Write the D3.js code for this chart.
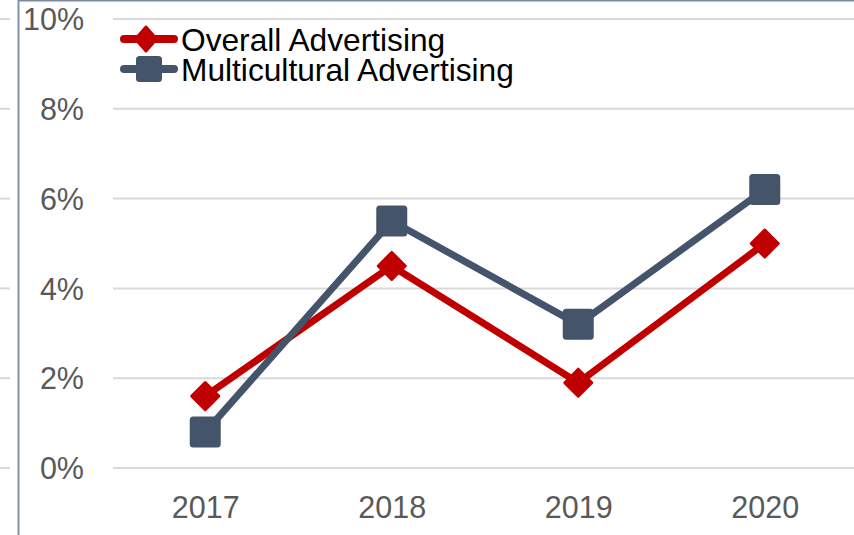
<!DOCTYPE html>
<html>
<head>
<meta charset="utf-8">
<script src="https://cdn.jsdelivr.net/npm/d3@7"></script>
<style>
  html, body { margin: 0; padding: 0; background: #fff; }
  svg { display: block; }
  text { font-family: "Liberation Sans", Arial, sans-serif; }
</style>
</head>
<body>
<svg id="chart" width="854" height="535"></svg>
<script>
// Annual growth in advertising spend (%)
const years = ["2017", "2018", "2019", "2020"];
const overallAdvertising = [1.6, 4.5, 1.9, 5.0];
const multiculturalAdvertising = [0.8, 5.5, 3.2, 6.2];
const yTicks = [0, 2, 4, 6, 8, 10];
const seriesNames = ["Overall Advertising", "Multicultural Advertising"];

const W = 854, H = 535;
const svg = d3.select("#chart");

const x = d3.scalePoint().domain(years).range([112, 858]).padding(0.5);
const y = d3.scaleLinear().domain([0, 10]).range([468, 19]);

// frame lines
svg.append("line").attr("x1", 19).attr("x2", W).attr("y1", 0.5).attr("y2", 0.5)
  .attr("stroke", "#7d8aa0").attr("stroke-width", 2);
svg.append("line").attr("x1", 18.5).attr("x2", 18.5).attr("y1", 0).attr("y2", H)
  .attr("stroke", "#8191aa").attr("stroke-width", 2);

// gridlines
const grid = svg.append("g");
yTicks.forEach(t => {
  grid.append("line").attr("x1", 113).attr("x2", W)
    .attr("y1", y(t)).attr("y2", y(t))
    .attr("stroke", "#d9d9d9").attr("stroke-width", 2);
  grid.append("line").attr("x1", 0).attr("x2", 10)
    .attr("y1", y(t)).attr("y2", y(t))
    .attr("stroke", "#d9d9d9").attr("stroke-width", 2);
});

// y axis labels
const yAxis = d3.axisLeft(y).tickValues(yTicks).tickFormat(d => d + "%").tickSize(0).tickPadding(0);
const yg = svg.append("g").attr("transform", "translate(84,0)").call(yAxis);
yg.select(".domain").remove();
yg.selectAll("text").attr("font-size", 30.5).attr("fill", "#595959")
  .attr("font-family", "'Liberation Sans', Arial, sans-serif").attr("dy", "0.35em");

// x axis labels
const xAxis = d3.axisBottom(x).tickSize(0).tickPadding(0);
const xg = svg.append("g").attr("transform", "translate(0,496)").call(xAxis);
xg.select(".domain").remove();
xg.selectAll("text").attr("font-size", 30.5).attr("fill", "#595959")
  .attr("font-family", "'Liberation Sans', Arial, sans-serif").attr("dy", "0.71em");

const red = "#c00000", slate = "#44546a";
const lineGen = d3.line().x((d, i) => x(years[i])).y(d => y(d));

function diamond(g, cx, cy, hx, hy, color) {
  g.append("path")
    .attr("d", `M${cx},${cy - hy}L${cx + hx},${cy}L${cx},${cy + hy}L${cx - hx},${cy}Z`)
    .attr("fill", color).attr("stroke", color).attr("stroke-width", 3)
    .attr("stroke-linejoin", "round");
}
function square(g, cx, cy, s, color) {
  g.append("rect").attr("x", cx - s / 2).attr("y", cy - s / 2)
    .attr("width", s).attr("height", s).attr("rx", 3.5)
    .attr("fill", color);
}

// Overall series
const gO = svg.append("g");
gO.append("path").datum(overallAdvertising).attr("d", lineGen)
  .attr("fill", "none").attr("stroke", red).attr("stroke-width", 7)
  .attr("stroke-linejoin", "round");
overallAdvertising.forEach((v, i) => diamond(gO, x(years[i]), y(v), 13.5, 13.5, red));

// Multicultural series
const gM = svg.append("g");
gM.append("path").datum(multiculturalAdvertising).attr("d", lineGen)
  .attr("fill", "none").attr("stroke", slate).attr("stroke-width", 7)
  .attr("stroke-linejoin", "round");
multiculturalAdvertising.forEach((v, i) => square(gM, x(years[i]), y(v), 31, slate));

// legend
const legend = svg.append("g");
const legendRows = [
  { name: seriesNames[0], color: red, cy: 39, base: 50.5 },
  { name: seriesNames[1], color: slate, cy: 69, base: 80.5 }
];
legendRows.forEach((r, i) => {
  legend.append("line").attr("x1", 124).attr("x2", 174).attr("y1", r.cy).attr("y2", r.cy)
    .attr("stroke", r.color).attr("stroke-width", 8).attr("stroke-linecap", "round");
  if (i === 0) diamond(legend, 146, r.cy, 10.5, 12, r.color);
  else square(legend, 149, r.cy, 26, r.color);
  legend.append("text").attr("x", 181).attr("y", r.base)
    .attr("font-size", 31.7).attr("fill", "#000").text(r.name);
});
</script>
</body>
</html>
